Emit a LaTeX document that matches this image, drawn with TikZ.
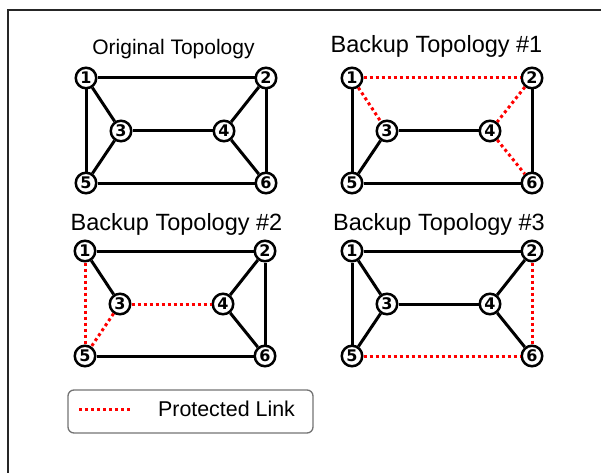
\documentclass[tikz,border=0pt]{standalone}
\usepackage{fontspec}
\setmainfont{Liberation Sans}
\newfontfamily\numfont{DejaVu Sans}
\newcommand\mytopo[3]{%
  \begin{scope}[shift={(#2,#3)}]
    \node[nd] (#11) at (0,0) {1};
    \node[nd] (#12) at (180,0) {2};
    \node[nd] (#13) at (35,53) {3};
    \node[nd] (#14) at (138,53) {4};
    \node[nd] (#15) at (0,105) {5};
    \node[nd] (#16) at (180,105) {6};
  \end{scope}}
\begin{document}
\begin{tikzpicture}[x=1pt,y=-1pt,
  nd/.style={circle, draw=black, line width=2.5pt, fill=white, minimum size=20.5pt, inner sep=0pt, font=\numfont\bfseries\fontsize{16}{16}\selectfont},
  lnk/.style={line width=3pt, black},
  prot/.style={line width=3pt, red, dash pattern=on 3pt off 3pt},
  ttl/.style={anchor=base, inner sep=0pt, font=\fontsize{23.5}{23.5}\selectfont},
  frame/.style={line width=2pt, black!85},
  legbox/.style={draw=black!55, line width=1.3pt, rounded corners=6pt},
]
\useasboundingbox (0,0) rectangle (601,473);
\draw[frame] (601,10) -- (8,10) -- (8,473);

% titles
\node[ttl, font=\fontsize{21}{21}\selectfont] (t1) at (173.5,55) {Original Topology};
\node[ttl] (t2) at (436.5,52.7) {Backup Topology \#1};
\node[ttl] (t3) at (176.5,230) {Backup Topology \#2};
\node[ttl] (t4) at (439,230.5) {Backup Topology \#3};

% nodes
\mytopo{a}{86}{78}
\mytopo{b}{352}{78}
\mytopo{c}{85}{251}
\mytopo{d}{352}{251}

% original
\draw[lnk] (a1) -- (a2);
\draw[lnk] (a1) -- (a3);
\draw[lnk] (a1) -- (a5);
\draw[lnk] (a2) -- (a4);
\draw[lnk] (a2) -- (a6);
\draw[lnk] (a3) -- (a4);
\draw[lnk] (a3) -- (a5);
\draw[lnk] (a4) -- (a6);
\draw[lnk] (a5) -- (a6);

% backup 1
\draw[prot] (b1) -- (b2);
\draw[prot] (b1) -- (b3);
\draw[lnk] (b1) -- (b5);
\draw[prot] (b2) -- (b4);
\draw[lnk] (b2) -- (b6);
\draw[lnk] (b3) -- (b4);
\draw[lnk] (b3) -- (b5);
\draw[prot] (b4) -- (b6);
\draw[lnk] (b5) -- (b6);

% backup 2
\draw[lnk] (c1) -- (c2);
\draw[lnk] (c1) -- (c3);
\draw[prot] (c1) -- (c5);
\draw[lnk] (c2) -- (c4);
\draw[lnk] (c2) -- (c6);
\draw[prot] (c3) -- (c4);
\draw[prot] (c3) -- (c5);
\draw[lnk] (c4) -- (c6);
\draw[lnk] (c5) -- (c6);

% backup 3
\draw[lnk] (d1) -- (d2);
\draw[lnk] (d1) -- (d3);
\draw[lnk] (d1) -- (d5);
\draw[lnk] (d2) -- (d4);
\draw[prot] (d2) -- (d6);
\draw[lnk] (d3) -- (d4);
\draw[lnk] (d3) -- (d5);
\draw[lnk] (d4) -- (d6);
\draw[prot] (d5) -- (d6);

% legend
\node[legbox, minimum width=245pt, minimum height=43pt, inner sep=0pt] (leg) at (190.5,411.5) {};
\coordinate (ls) at (79,409);
\coordinate (le) at (132,409);
\draw[prot] (ls) -- (le);
\node[anchor=base, inner sep=0pt, font=\fontsize{21.4}{21.4}\selectfont] (legtxt) at (226.5,416) {Protected Link};
\end{tikzpicture}
\end{document}
